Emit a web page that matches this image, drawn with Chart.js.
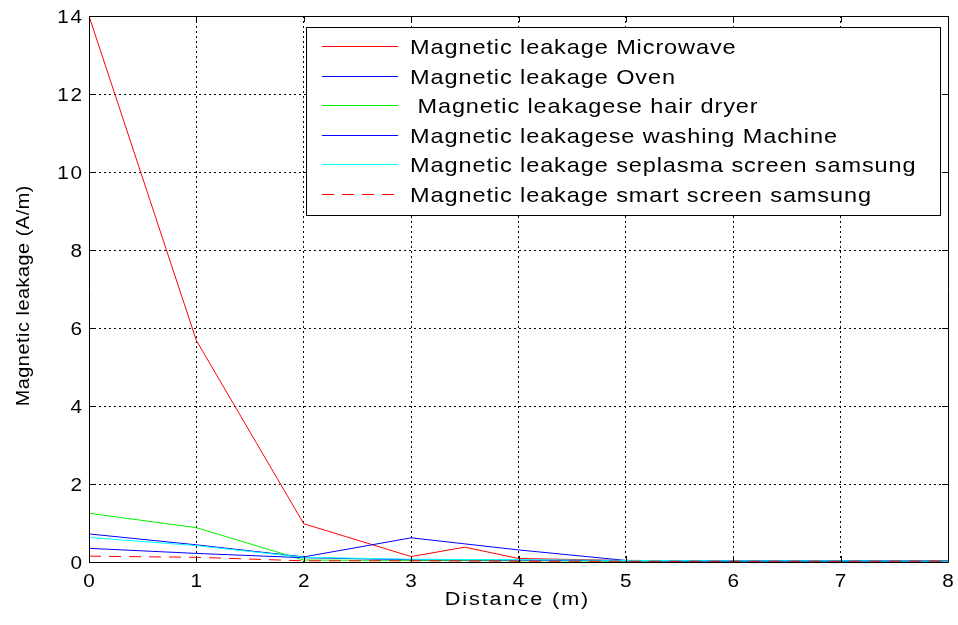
<!DOCTYPE html>
<html>
<head>
<meta charset="utf-8">
<script src="https://cdn.jsdelivr.net/npm/chart.js@4/dist/chart.umd.min.js"></script>
<style>
  html, body { margin: 0; padding: 0; background: #fff; }
  #wrap { width: 958px; height: 625px; position: relative; }
</style>
</head>
<body>
<div id="wrap"><canvas id="leakChart"></canvas></div>
<script>
// distances in metres (3.5 is only measured for the microwave)
const distance = [0, 1, 2, 3, 3.5, 4, 5, 6, 7, 8];

const microwave   = [14, 5.68, 0.98, 0.14, 0.38, 0.09, 0.04, 0.03, 0.03, 0.03];
const oven        = [0.72, 0.44, 0.13, 0.62, null, 0.31, 0.04, 0.03, 0.03, 0.02];
const hairDryer   = [1.25, 0.88, 0.05, 0.04, null, 0.03, 0.02, 0.02, 0.02, 0.02];
const washing     = [0.35, 0.22, 0.11, 0.06, null, 0.05, 0.03, 0.02, 0.02, 0.02];
const plasma      = [0.63, 0.42, 0.12, 0.07, null, 0.06, 0.04, 0.03, 0.03, 0.02];
const smartScreen = [0.15, 0.12, 0.03, 0.03, null, 0.02, 0.02, 0.02, 0.02, 0.02];

const xTicks = [0, 1, 2, 3, 4, 5, 6, 7, 8];
const yTicks = [0, 2, 4, 6, 8, 10, 12, 14];

const xTitle = "Distance (m)";
const yTitle = "Magnetic leakage (A/m)";

const FONT = "'Liberation Sans', Arial, sans-serif";

const pts = (ys) => distance.map((x, i) => ({ x: x, y: ys[i] }));

const series = [
    { label: "Magnetic leakage Microwave", data: microwave, color: "#ff0000", dash: [] },
    { label: "Magnetic leakage Oven", data: oven, color: "#0000ff", dash: [] },
    { label: " Magnetic leakagese hair dryer", data: hairDryer, color: "#00f000", dash: [] },
    { label: "Magnetic leakagese washing Machine", data: washing, color: "#0000ff", dash: [] },
    { label: "Magnetic leakage seplasma screen samsung", data: plasma, color: "#00ffff", dash: [] },
    { label: "Magnetic leakage smart screen samsung", data: smartScreen, color: "#ff0000", dash: [12, 8] }
];

// wide, slightly stretched text like the old matlab renderer
function wideText(ctx, text, x, y, size, stretch, spacing, align) {
    ctx.save();
    ctx.font = size + "px " + FONT;
    ctx.letterSpacing = spacing + "px";
    ctx.textAlign = "left";
    ctx.textBaseline = "alphabetic";
    const w = (ctx.measureText(text).width - spacing) * stretch;
    let sx = x;
    if (align === "center") sx = x - w / 2;
    else if (align === "right") sx = x - w;
    ctx.translate(sx, y);
    ctx.scale(stretch, 1);
    ctx.fillText(text, 0, 0);
    ctx.restore();
}

// axes box, inward ticks, tick labels, titles and the legend
const boxLegend = {
    id: "boxLegend",
    afterDraw(chart) {
        const ctx = chart.ctx;
        const a = chart.chartArea;
        const xs = chart.scales.x, ys = chart.scales.y;
        ctx.save();
        ctx.strokeStyle = "#000";
        ctx.lineWidth = 1;
        ctx.setLineDash([]);
        ctx.beginPath();
        ctx.rect(Math.round(a.left) + 0.5, Math.round(a.top) + 0.5,
                 Math.round(a.right - a.left), Math.round(a.bottom - a.top));
        ctx.stroke();
        ctx.beginPath();
        xTicks.forEach(v => {
            const px = Math.round(xs.getPixelForValue(v)) + 0.5;
            ctx.moveTo(px, a.bottom); ctx.lineTo(px, a.bottom - 6);
            ctx.moveTo(px, a.top); ctx.lineTo(px, a.top + 6);
        });
        yTicks.forEach(v => {
            const py = Math.round(ys.getPixelForValue(v)) + 0.5;
            ctx.moveTo(a.left, py); ctx.lineTo(a.left + 6, py);
            ctx.moveTo(a.right, py); ctx.lineTo(a.right - 6, py);
        });
        ctx.stroke();

        ctx.fillStyle = "#000";
        xTicks.forEach(v => {
            wideText(ctx, String(v), xs.getPixelForValue(v), a.bottom + 25, 18, 1.15, 0, "center");
        });
        yTicks.forEach(v => {
            wideText(ctx, String(v), a.left - 7, ys.getPixelForValue(v) + 6.5, 18, 1.15, 1.5, "right");
        });
        wideText(ctx, xTitle, (a.left + a.right) / 2 - 2, 605, 18, 1.2, 1.6, "center");

        ctx.save();
        ctx.translate(29, 296);
        ctx.rotate(-Math.PI / 2);
        wideText(ctx, yTitle, 0, 0, 18, 1.1, 0.5, "center");
        ctx.restore();

        // legend
        const lx = 306, ly = 27, lw = 634, lh = 188, row = 29.6;
        ctx.fillStyle = "#fff";
        ctx.fillRect(lx, ly, lw, lh);
        ctx.strokeStyle = "#000";
        ctx.strokeRect(lx + 0.5, ly + 0.5, lw, lh);
        chart.data.datasets.forEach((ds, i) => {
            const y = Math.round(ly + 19 + i * row) + 0.5;
            ctx.strokeStyle = ds.borderColor;
            ctx.lineWidth = 1;
            ctx.setLineDash(ds.borderDash || []);
            ctx.beginPath();
            ctx.moveTo(322, y); ctx.lineTo(398, y);
            ctx.stroke();
            ctx.setLineDash([]);
            ctx.fillStyle = "#000";
            wideText(ctx, ds.label, 410, y + 7.5, 21, 1.12, 0.8, "left");
        });
        ctx.restore();
    }
};

const ctx = document.getElementById("leakChart").getContext("2d");

new Chart(ctx, {
    type: "line",
    data: {
        datasets: series.map((s, i) => ({
            label: s.label,
            data: pts(s.data),
            borderColor: s.color,
            backgroundColor: s.color,
            borderWidth: 1,
            borderDash: s.dash,
            pointRadius: 0,
            fill: false,
            tension: 0,
            spanGaps: true,
            order: series.length - i
        }))
    },
    options: {
        responsive: true,
        maintainAspectRatio: false,
        animation: false,
        layout: { padding: { top: 16, right: 10, left: 0, bottom: 0 } },
        scales: {
            x: {
                type: "linear",
                min: 0,
                max: 8,
                afterBuildTicks: (s) => { s.ticks = xTicks.map(v => ({ value: v })); },
                afterFit: (s) => { s.height = 63; },
                grid: { color: "#000", lineWidth: 1, drawTicks: false },
                border: { display: false, dash: [2, 3] },
                ticks: { display: false }
            },
            y: {
                min: 0,
                max: 14,
                afterBuildTicks: (s) => { s.ticks = yTicks.map(v => ({ value: v })); },
                afterFit: (s) => { s.width = 89; },
                grid: { color: "#000", lineWidth: 1, drawTicks: false },
                border: { display: false, dash: [2, 3] },
                ticks: { display: false }
            }
        },
        plugins: {
            legend: { display: false },
            tooltip: { enabled: false }
        }
    },
    plugins: [boxLegend]
});
</script>
</body>
</html>
